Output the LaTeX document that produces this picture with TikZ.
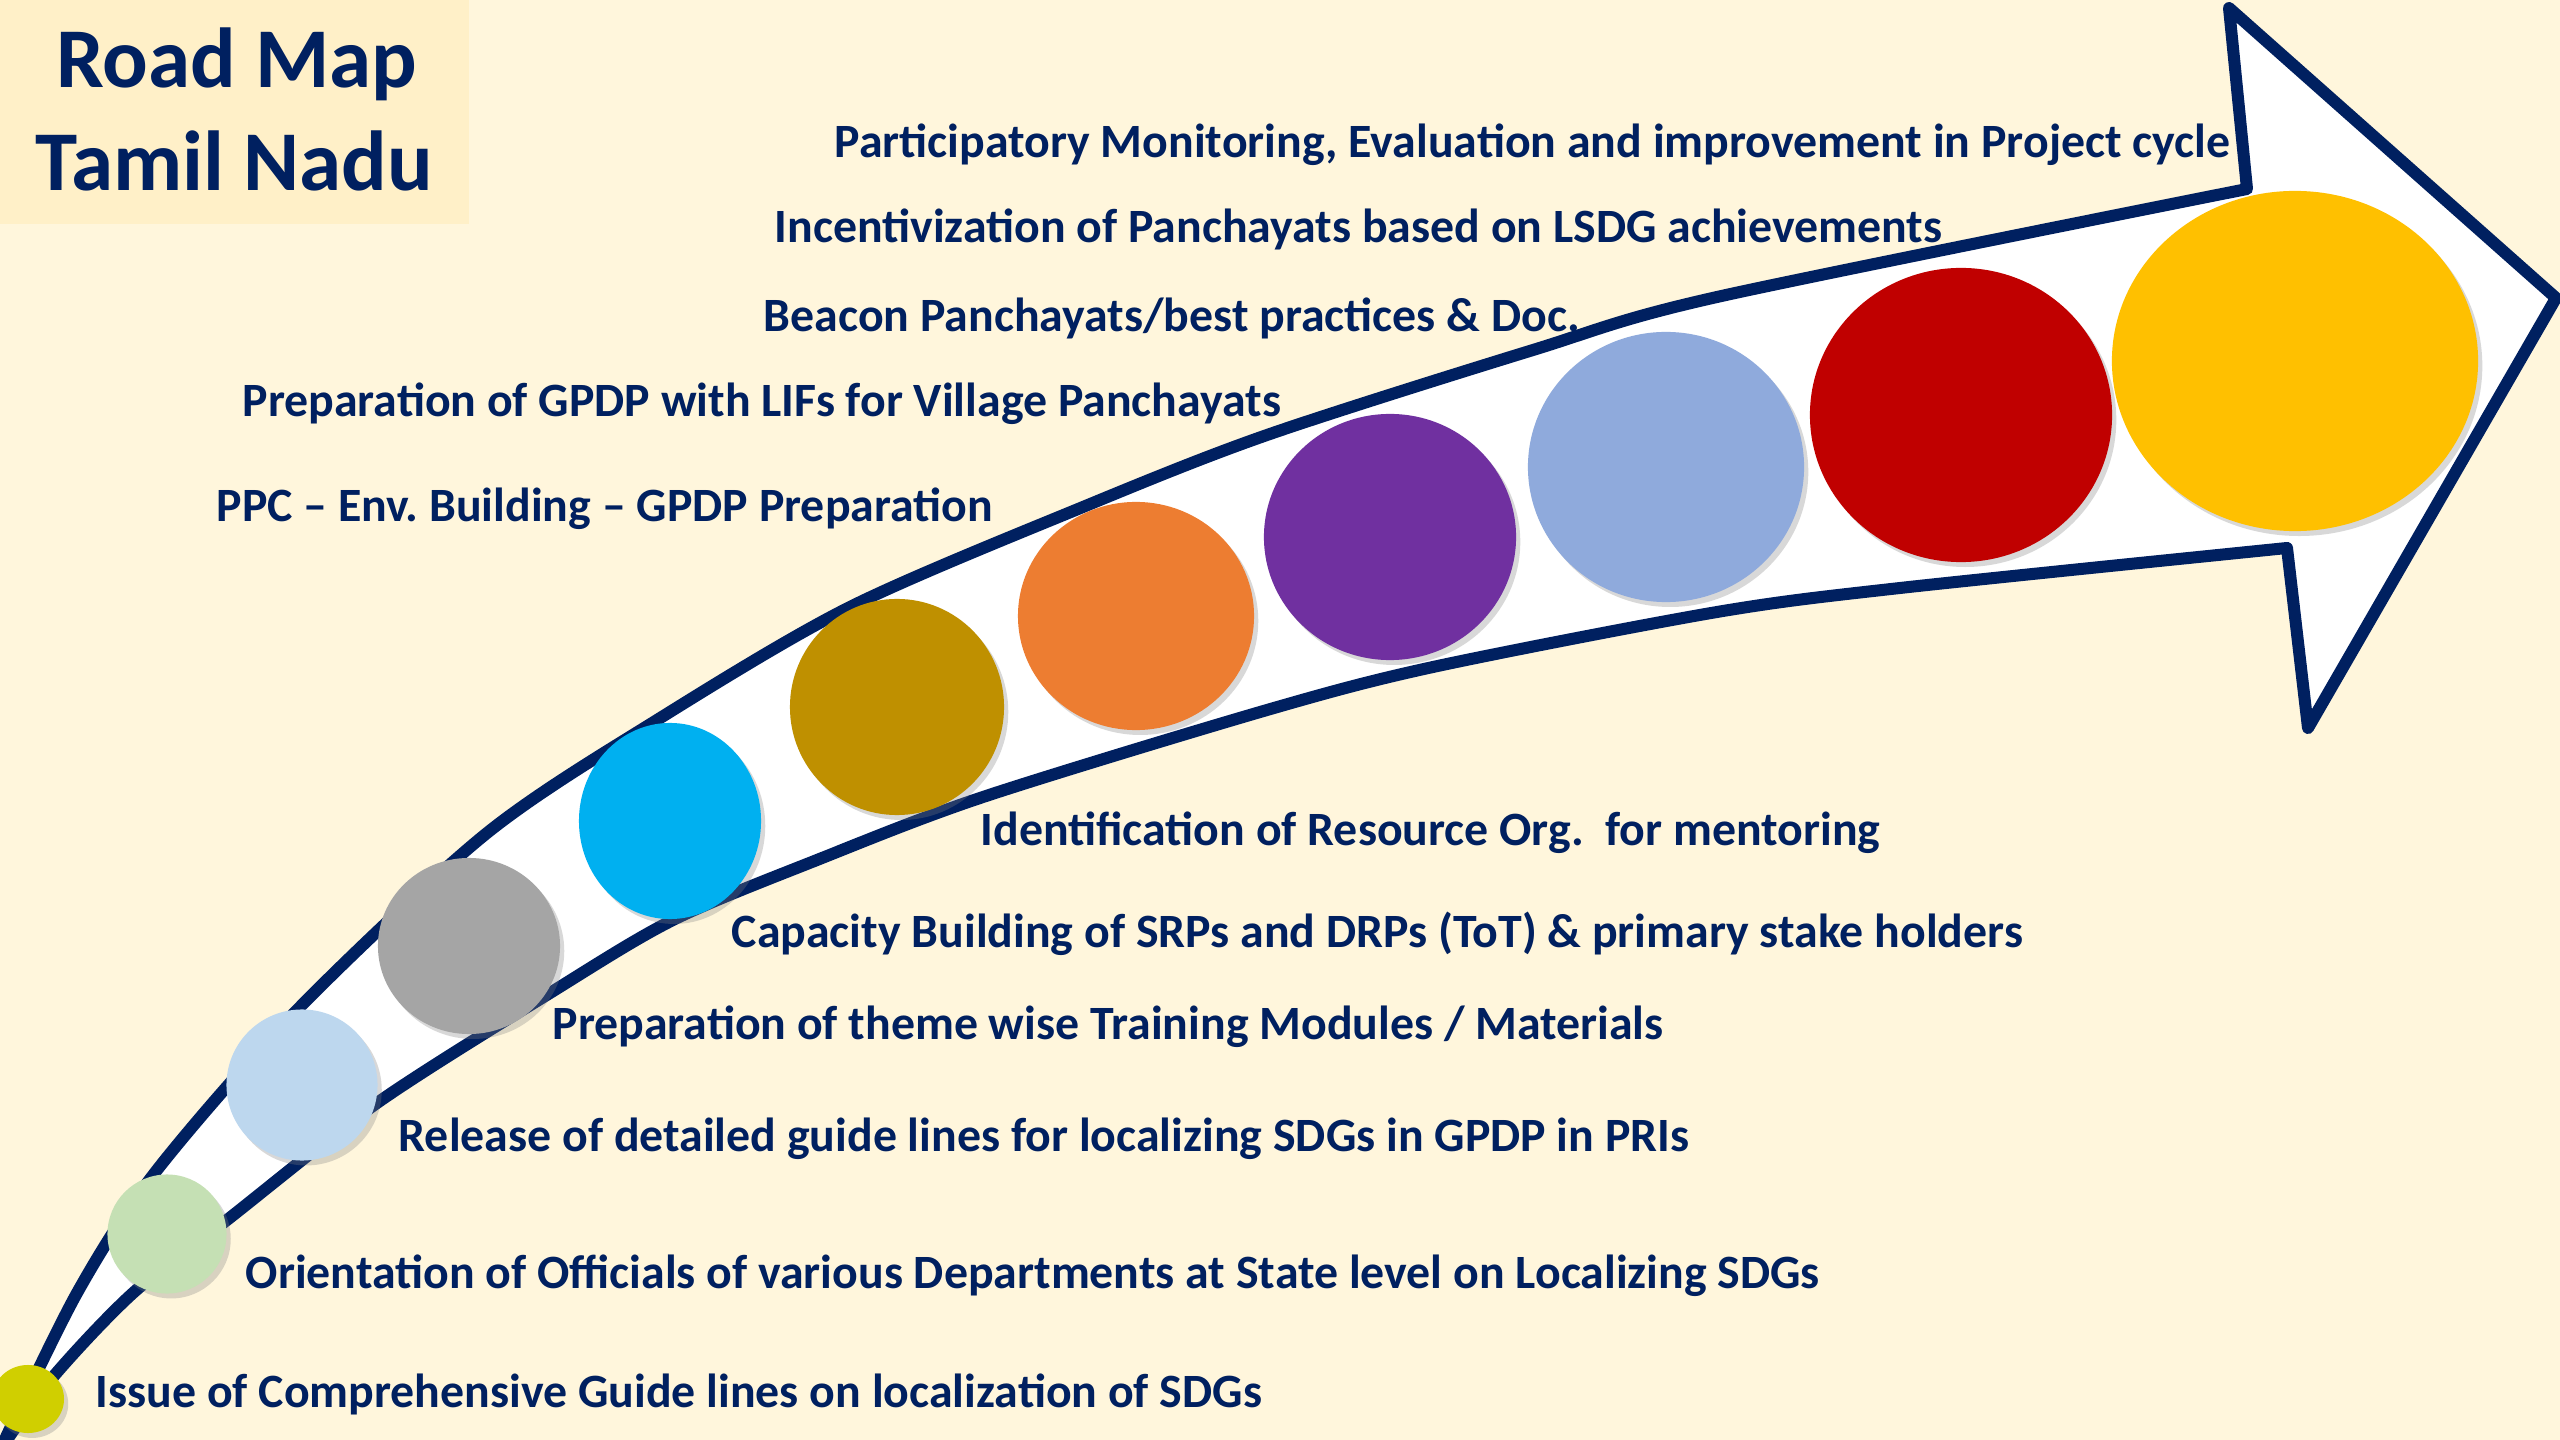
\documentclass[tikz,border=0pt]{standalone}
\usepackage{fontspec}
\setmainfont{Carlito}
\usetikzlibrary{shapes.geometric,shadows}
\definecolor{navy}{HTML}{002060}
\definecolor{paper}{HTML}{FFF6DC}
\definecolor{titlebox}{HTML}{FFF0C8}
\definecolor{cA}{HTML}{D0CF00}
\definecolor{cB}{HTML}{C5E0B4}
\definecolor{cC}{HTML}{BDD7EE}
\definecolor{cD}{HTML}{A5A5A5}
\definecolor{cE}{HTML}{00B0F0}
\definecolor{cF}{HTML}{BF9000}
\definecolor{cG}{HTML}{ED7D31}
\definecolor{cH}{HTML}{7030A0}
\definecolor{cI}{HTML}{8FAADC}
\definecolor{cJ}{HTML}{C00000}
\definecolor{cK}{HTML}{FFC000}
\frenchspacing
\begin{document}
\begin{tikzpicture}[x=0.01cm,y=-0.01cm,
every node/.style={inner sep=0pt},
dot/.style={ellipse,draw=none,drop shadow={shadow xshift=1.2pt,shadow yshift=-1.4pt,opacity=.3}},
lbl/.style={anchor=base west,text=navy,font=\fontsize{13.6}{16}\selectfont\bfseries},
ttl/.style={anchor=base,text=navy,font=\fontsize{24.2}{29}\selectfont\bfseries}]
\fill[paper] (0,0) rectangle (2560,1440);
\useasboundingbox (0,0) rectangle (2560,1440);
\fill[titlebox] (0,0) rectangle (469,224);
\node[ttl] (T1) at (237,88) {Road Map};
\node[ttl] (T2) at (234,191) {Tamil Nadu};
\filldraw[draw=navy,fill=white,line width=0.12cm,line join=round]
  plot[smooth,tension=.5] coordinates {(0,1450) (77,1293) (157,1170) (300,1007) (487,833) (657,720) (850,607) (1083,507) (1267,435) (1533,350) (1717,297) (2247,189)}
  -- (2229,8) -- (2556,298) -- (2308,728)
  -- plot[smooth,tension=.5] coordinates {(2287,548) (1900,588) (1717,612) (1433,667) (1267,710) (983,797) (817,860) (673,920) (550,993) (377,1103) (227,1220) (133,1293) (53,1377) (0,1450)}
  -- cycle;
\node[dot,fill=cA,minimum width=0.72cm,minimum height=0.68cm] (C1) at (28,1399) {};
\node[dot,fill=cB,minimum width=1.19cm,minimum height=1.19cm] (C2) at (167,1234) {};
\node[dot,fill=cC,minimum width=1.51cm,minimum height=1.51cm] (C3) at (302,1085) {};
\node[dot,fill=cD,minimum width=1.82cm,minimum height=1.76cm] (C4) at (469,946) {};
\node[dot,fill=cE,minimum width=1.82cm,minimum height=1.96cm] (C5) at (670,821) {};
\node[dot,fill=cF,minimum width=2.14cm,minimum height=2.16cm] (C6) at (897,707) {};
\node[dot,fill=cG,minimum width=2.36cm,minimum height=2.28cm] (C7) at (1136,616) {};
\node[dot,fill=cH,minimum width=2.52cm,minimum height=2.46cm] (C8) at (1390,537) {};
\node[dot,fill=cI,minimum width=2.76cm,minimum height=2.70cm] (C9) at (1666,467) {};
\node[dot,fill=cJ,minimum width=3.02cm,minimum height=2.94cm] (C10) at (1961,415) {};
\node[dot,fill=cK,minimum width=3.66cm,minimum height=3.40cm] (C11) at (2295,361) {};
\node[lbl] (L1) at (834,158) {Participatory Monitoring, Evaluation and improvement in Project cycle};
\node[lbl] (L2) at (774,243) {Incentivization of Panchayats based on LSDG achievements};
\node[lbl] (L3) at (763,332) {Beacon Panchayats/best practices \& Doc.};
\node[lbl] (L4) at (242,417) {Preparation of GPDP with LIFs for Village Panchayats};
\node[lbl] (L5) at (216,522) {PPC -- Env. Building -- GPDP Preparation};
\node[lbl] (L6) at (980,846) {Identification of Resource Org.\ \ for mentoring};
\node[lbl] (L7) at (731,947) {Capacity Building of SRPs and DRPs (ToT) \& primary stake holders};
\node[lbl] (L8) at (552,1039) {Preparation of theme wise Training Modules / Materials};
\node[lbl] (L9) at (398,1151) {Release of detailed guide lines for localizing SDGs in GPDP in PRIs};
\node[lbl] (L10) at (245,1288) {Orientation of Officials of various Departments at State level on Localizing SDGs};
\node[lbl] (L11) at (95,1407) {Issue of Comprehensive Guide lines on localization of SDGs};
\end{tikzpicture}
\end{document}
